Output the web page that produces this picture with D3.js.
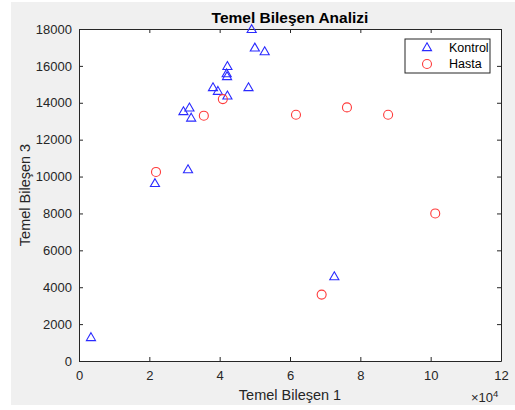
<!DOCTYPE html>
<html>
<head>
<meta charset="utf-8">
<script src="https://d3js.org/d3.v7.min.js"></script>
<style>
  body { margin: 0; background: #fff; }
  text { font-family: "Liberation Sans", Arial, sans-serif; fill: #262626; }
</style>
</head>
<body>
<div id="chart"></div>
<script>
// data (x in raw units, axis shown in x10^4)
var kontrolX = [3400, 21600, 31000, 29700, 31400, 31900, 38100, 39500, 42200, 42200, 42000, 42100, 48200, 49100, 50000, 52800, 72600];
var kontrolY = [1250, 9600, 10350, 13500, 13700, 13150, 14800, 14600, 14350, 15950, 15550, 15400, 14800, 17950, 16950, 16750, 4550];
var hastaX = [21900, 35500, 40900, 61700, 76200, 87900, 101300, 69000];
var hastaY = [10250, 13300, 14200, 13350, 13750, 13350, 8000, 3600];
var xTicks = [0, 2, 4, 6, 8, 10, 12];
var yTicks = [0, 2000, 4000, 6000, 8000, 10000, 12000, 14000, 16000, 18000];

var width = 515, height = 410;
var margin = {top: 29, right: 14, bottom: 49, left: 79};

var svg = d3.select('#chart').append('svg')
    .attr('width', width)
    .attr('height', height);

// figure background
svg.append('rect')
    .attr('x', 11).attr('y', 2)
    .attr('width', width - 11).attr('height', 403)
    .attr('fill', '#f0f0f0');

var w = width - margin.left - margin.right;
var h = height - margin.top - margin.bottom;

var g = svg.append('g')
    .attr('transform', 'translate(' + margin.left + ',' + margin.top + ')');

var x = d3.scaleLinear().domain([0, 12]).range([0, w]);
var y = d3.scaleLinear().domain([0, 18000]).range([h, 0]);

g.append('rect').attr('width', w).attr('height', h).attr('fill', '#fff');

function styleAxis(sel) {
    sel.selectAll('path').attr('stroke', '#262626');
    sel.selectAll('line').attr('stroke', '#262626');
    sel.selectAll('text').attr('font-size', '13px').style('fill', '#262626');
}

g.append('g')
    .attr('transform', 'translate(0,' + h + ')')
    .call(d3.axisBottom(x).tickValues(xTicks).tickSizeInner(-4).tickSizeOuter(0).tickPadding(10))
    .call(styleAxis);
g.append('g')
    .call(d3.axisTop(x).tickValues(xTicks).tickSizeInner(-4).tickSizeOuter(0).tickFormat(''))
    .call(styleAxis);
g.append('g')
    .call(d3.axisLeft(y).tickValues(yTicks).tickFormat(d3.format('d')).tickSizeInner(-4).tickSizeOuter(0).tickPadding(7))
    .call(styleAxis);
g.append('g')
    .attr('transform', 'translate(' + w + ',0)')
    .call(d3.axisRight(y).tickValues(yTicks).tickSizeInner(-4).tickSizeOuter(0).tickFormat(''))
    .call(styleAxis);

var tri = d3.symbol().type(d3.symbolTriangle).size(36);

g.selectAll('.kontrol')
    .data(kontrolX)
    .enter().append('path')
    .attr('class', 'kontrol')
    .attr('d', tri)
    .attr('transform', function(d, i) { return 'translate(' + x(d / 1e4) + ',' + y(kontrolY[i]) + ')'; })
    .attr('fill', 'none')
    .attr('stroke', '#2a2aff')
    .attr('stroke-width', 1.1);

g.selectAll('.hasta')
    .data(hastaX)
    .enter().append('circle')
    .attr('class', 'hasta')
    .attr('cx', function(d) { return x(d / 1e4); })
    .attr('cy', function(d, i) { return y(hastaY[i]); })
    .attr('r', 4.5)
    .attr('fill', 'none')
    .attr('stroke', '#ff3a3a')
    .attr('stroke-width', 1.1);

// title and labels
svg.append('text')
    .attr('x', margin.left + w / 2).attr('y', 23)
    .attr('text-anchor', 'middle')
    .attr('font-size', '15.5px').attr('font-weight', 'bold')
    .style('fill', '#000')
    .text('Temel Bileşen Analizi');

svg.append('text')
    .attr('x', margin.left + w / 2).attr('y', 400)
    .attr('text-anchor', 'middle')
    .attr('font-size', '14.5px')
    .text('Temel Bileşen 1');

svg.append('text')
    .attr('transform', 'translate(30,' + (margin.top + h / 2) + ') rotate(-90)')
    .attr('text-anchor', 'middle')
    .attr('font-size', '14.5px')
    .text('Temel Bileşen 3');

var ex = svg.append('text')
    .attr('x', 471).attr('y', 402)
    .attr('font-size', '13px');
ex.append('tspan').text('×10');
ex.append('tspan').attr('dy', -5).attr('font-size', '9.5px').text('4');

// legend
var lg = svg.append('g').attr('transform', 'translate(405,39)');
lg.append('rect').attr('width', 85).attr('height', 34)
    .attr('fill', '#fff').attr('stroke', '#262626').attr('stroke-width', 1);
lg.append('path').attr('d', tri).attr('transform', 'translate(22,9)')
    .attr('fill', 'none').attr('stroke', '#2a2aff').attr('stroke-width', 1.1);
lg.append('circle').attr('cx', 22).attr('cy', 25).attr('r', 4.5)
    .attr('fill', 'none').attr('stroke', '#ff3a3a').attr('stroke-width', 1.1);
lg.append('text').attr('x', 44).attr('y', 13).attr('font-size', '12.5px').style('fill', '#000').text('Kontrol');
lg.append('text').attr('x', 44).attr('y', 29).attr('font-size', '12.5px').style('fill', '#000').text('Hasta');
</script>
</body>
</html>
